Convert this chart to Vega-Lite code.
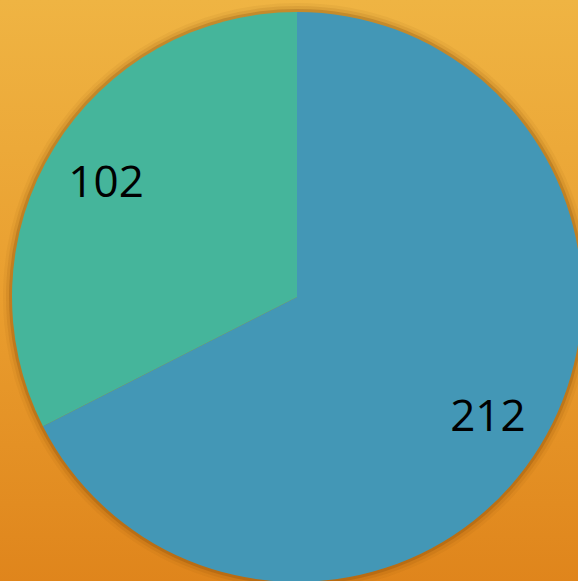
{
  "$schema": "https://vega.github.io/schema/vega-lite/v6.json",
  "width": 594,
  "height": 594,
  "padding": 0,
  "autosize": "none",
  "background": "#e89a2c",
  "config": {"view": {"stroke": null}},
  "datasets": {
    "slices": [
      {"category": "A", "value": 212, "order": 1},
      {"category": "B", "value": 102, "order": 2}
    ],
    "bg": [{"name": "background"}]
  },
  "layer": [
    {
      "data": {"name": "bg"},
      "mark": {
        "type": "rect",
        "fill": {
          "gradient": "linear",
          "x1": 0, "y1": 0, "x2": 0, "y2": 1,
          "stops": [
            {"offset": 0, "color": "#efb443"},
            {"offset": 0.5, "color": "#e99e2f"},
            {"offset": 1, "color": "#df841b"}
          ]
        }
      },
      "encoding": {}
    },
    {
      "data": {"name": "slices"},
      "encoding": {
        "theta": {"field": "value", "type": "quantitative", "stack": true},
        "order": {"field": "order", "type": "quantitative"}
      },
      "layer": [
        {"mark": {"type": "arc", "radius": 294, "fill": "#7a3d00", "opacity": 0.06}},
        {"mark": {"type": "arc", "radius": 291, "fill": "#7a3d00", "opacity": 0.1}},
        {"mark": {"type": "arc", "radius": 288, "fill": "#6a3500", "opacity": 0.2}},
        {
          "mark": {"type": "arc", "radius": 285},
          "encoding": {
            "color": {
              "field": "category",
              "type": "nominal",
              "scale": {"domain": ["A", "B"], "range": ["#4397b6", "#45b59b"]},
              "legend": null
            }
          }
        },
        {
          "mark": {"type": "text", "radius": 224, "dy": 4, "fontSize": 44, "font": "Open Sans", "fill": "#000000"},
          "encoding": {"text": {"field": "value", "type": "quantitative"}}
        }
      ]
    }
  ]
}
